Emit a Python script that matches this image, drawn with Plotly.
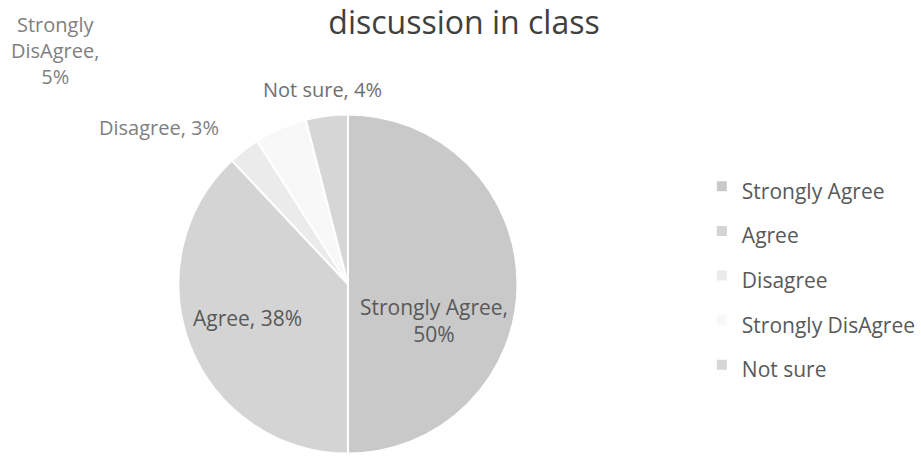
import plotly.graph_objects as go

categories = ["Strongly Agree", "Agree", "Disagree", "Strongly DisAgree", "Not sure"]
values = [50, 38, 3, 5, 4]
colors = ["#c9c9c9", "#d4d4d4", "#ebebeb", "#f8f8f8", "#d6d6d6"]
title_text = "discussion in class"

FONT = "'Open Sans', sans-serif"

fig = go.Figure(go.Pie(
    labels=[f"<span style='font-size:21px'>{c}</span>" for c in categories],
    values=values,
    sort=False,
    direction="clockwise",
    rotation=0,
    textinfo="none",
    marker=dict(colors=colors, line=dict(color="white", width=2)),
    domain=dict(x=[0.1954, 0.5668], y=[0.011, 0.754]),
    hoverinfo="label+percent",
))

# data labels (text built from the data arrays)
label_text = {
    "Strongly Agree": "{c},<br>{v}%",
    "Agree": "{c}, {v}%",
    "Disagree": "{c}, {v}%",
    "Strongly DisAgree": "Strongly<br>DisAgree,<br>{v}%",
    "Not sure": "{c}, {v}%",
}
label_pos = {  # pixel placement of each data label
    "Strongly Agree": (438, 320, 21, "#595959"),
    "Agree": (250, 318, 21, "#595959"),
    "Disagree": (160, 128, 20, "#808080"),
    "Strongly DisAgree": (55, 50, 20, "#808080"),
    "Not sure": (325, 89, 20, "#6e6e6e"),
}
annotations = []
for c, v in zip(categories, values):
    x, y, fs, col = label_pos[c]
    annotations.append(dict(
        text=label_text[c].format(c=c, v=v), x=x / 921, y=1 - y / 460,
        xref="paper", yref="paper", xanchor="center", yanchor="middle",
        showarrow=False, align="center",
        font=dict(family=FONT, size=fs, color=col),
    ))

fig.update_layout(
    width=921, height=460,
    margin=dict(l=0, r=0, t=0, b=0),
    paper_bgcolor="white",
    plot_bgcolor="white",
    title=dict(text=title_text, x=464 / 921, xanchor="center", y=1 - 23 / 460, yanchor="middle",
               font=dict(family=FONT, size=32, color="#404040")),
    legend=dict(x=708 / 921, y=1 - 159 / 460, xanchor="left", yanchor="top",
                font=dict(family=FONT, size=32, color="#595959"),
                bgcolor="rgba(0,0,0,0)"),
    annotations=annotations,
)

fig.write_html("out.html", config={"displayModeBar": False},
               post_script="document.body.style.margin='0';")
